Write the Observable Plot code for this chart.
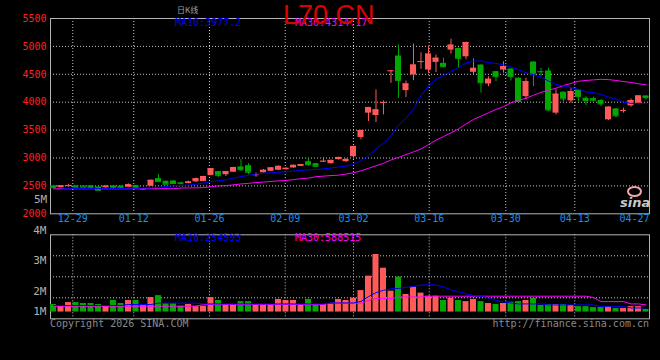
<!DOCTYPE html>
<html><head><meta charset="utf-8">
<script src="https://cdn.jsdelivr.net/npm/d3@7"></script>
<script src="https://cdn.jsdelivr.net/npm/@observablehq/plot@0.6"></script>
<style>
html,body{margin:0;padding:0;background:#000;}
#chart{position:relative;width:660px;height:360px;background:#000;overflow:hidden;font-family:"DejaVu Sans Mono",monospace;}
#chart svg{position:absolute;left:0;}
.lbl{position:absolute;white-space:nowrap;font-size:10px;line-height:10px;font-family:"DejaVu Sans Mono",monospace;}
</style></head><body><div id="chart"></div>
<script>
// ---- data ----
const open = [2500,2468,2500,2500,2498,2500,2480,2465,2500,2495,
 2475,2505,2435,2495,2630,2582,2588,2555,2542,2572,
 2580,2688,2756,2700,2745,2840,2862,2695,2735,2762,
 2780,2790,2822,2850,2934,2898,2938,2898,2970,2934,
 3023,3368,3804,3761,3990,4555,4827,4207,4487,4722,
 4577,4714,4696,4934,4964,4814,4536,4666,4327,4547,
 4577,4595,4429,4100,4720,4550,4559,3804,4179,4023,
 4220,4071,4064,4029,3684,3880,3848,3934,3982,4112];
const close = [2468,2500,2505,2478,2478,2465,2422,2495,2462,2462,
 2522,2465,2445,2600,2577,2530,2542,2540,2570,2628,
 2668,2808,2690,2755,2830,2790,2745,2700,2780,2822,
 2850,2815,2868,2880,2880,2852,2942,2957,3010,2970,
 3207,3493,3904,3862,3996,4562,4386,4327,4666,4728,
 4862,4788,4636,5023,4786,5070,4607,4350,4411,4457,
 4636,4457,4011,4368,4505,4545,3862,4143,4059,4190,
 4100,4029,4035,3970,3911,3755,3852,4029,4112,4082];
const high = [2510,2505,2530,2505,2508,2505,2485,2500,2505,2500,
 2535,2510,2450,2605,2702,2590,2592,2565,2585,2640,
 2672,2812,2760,2760,2835,2970,2900,2732,2795,2830,
 2860,2825,2875,2885,2988,2905,3010,2960,3015,2990,
 3210,3500,3910,4220,4023,4565,5023,4380,5041,4886,
 5005,4845,4791,5130,4970,5075,4773,4670,4457,4555,
 4725,4600,4440,4429,4725,4607,4607,4220,4182,4250,
 4222,4100,4090,4050,3915,3885,3893,4059,4115,4115];
const low = [2460,2462,2480,2470,2472,2460,2412,2460,2455,2455,
 2470,2460,2428,2490,2565,2525,2538,2525,2538,2565,
 2575,2680,2655,2670,2740,2760,2700,2655,2730,2758,
 2775,2785,2818,2845,2850,2835,2925,2890,2965,2920,
 3020,3327,3654,3636,3773,4339,4071,4082,4386,4589,
 4518,4530,4612,4862,4607,4761,4475,4161,4279,4368,
 4518,4380,3993,4041,4279,4457,3832,3773,4011,3982,
 4011,3939,4010,3921,3671,3720,3804,3911,3975,4041];
const ma10 = [2434,2440,2455,2455,2455,2455,2455,2455,2455,2455,
 2456,2458,2460,2465,2475,2490,2500,2510,2515,2530,
 2550,2575,2590,2610,2640,2665,2690,2712,2728,2735,
 2745,2752,2765,2780,2788,2795,2805,2820,2840,2855,
 2890,2950,3040,3160,3265,3400,3590,3710,3880,4120,
 4290,4410,4480,4550,4620,4700,4735,4738,4710,4695,
 4670,4630,4580,4530,4490,4450,4380,4320,4290,4260,
 4230,4185,4170,4140,4090,4055,4000,3980,3972,3977];
const ma30 = [2448,2448,2448,2448,2448,2448,2448,2448,2448,2448,
 2448,2449,2450,2450,2450,2450,2450,2462,2464,2465,
 2470,2485,2500,2505,2520,2535,2545,2560,2568,2580,
 2590,2597,2613,2628,2640,2665,2675,2685,2692,2712,
 2735,2770,2815,2860,2905,2965,3010,3060,3110,3160,
 3240,3320,3385,3450,3520,3610,3690,3750,3810,3870,
 3920,3990,4035,4070,4125,4175,4215,4250,4300,4335,
 4375,4390,4400,4410,4405,4390,4370,4355,4330,4314];
// volume, millions
const volume = [0.39,0.34,0.49,0.49,0.44,0.44,0.39,0.34,0.60,0.44,
 0.60,0.60,0.34,0.75,0.85,0.44,0.44,0.30,0.39,0.30,
 0.30,0.75,0.60,0.39,0.34,0.54,0.54,0.34,0.34,0.34,
 0.65,0.60,0.60,0.39,0.65,0.39,0.39,0.39,0.65,0.60,
 0.72,1.11,1.86,2.98,2.27,1.08,1.81,0.91,1.29,0.98,
 0.82,0.82,0.60,0.72,0.60,0.54,0.65,0.54,0.44,0.39,
 0.44,0.51,0.54,0.60,0.72,0.34,0.39,0.39,0.39,0.34,
 0.28,0.28,0.23,0.23,0.28,0.18,0.18,0.28,0.28,0.13];
const volMa10 = [0.34,0.34,0.34,0.34,0.34,0.34,0.34,0.34,0.34,0.34,
 0.39,0.39,0.39,0.39,0.46,0.46,0.46,0.46,0.46,0.46,
 0.42,0.42,0.42,0.42,0.42,0.42,0.42,0.42,0.42,0.42,
 0.42,0.42,0.42,0.42,0.42,0.42,0.42,0.47,0.47,0.47,
 0.47,0.55,0.80,1.00,1.13,1.20,1.22,1.28,1.32,1.40,
 1.41,1.40,1.30,1.15,1.05,0.94,0.85,0.82,0.72,0.60,
 0.52,0.47,0.42,0.42,0.42,0.42,0.37,0.37,0.37,0.37,
 0.37,0.37,0.37,0.28,0.28,0.28,0.28,0.21,0.21,0.21];
const volMa30 = [0.30,0.30,0.30,0.30,0.30,0.30,0.30,0.30,0.30,0.30,
 0.30,0.30,0.30,0.30,0.30,0.30,0.30,0.30,0.30,0.30,
 0.39,0.39,0.39,0.39,0.39,0.39,0.39,0.39,0.39,0.39,
 0.39,0.39,0.39,0.39,0.39,0.39,0.39,0.46,0.46,0.46,
 0.46,0.46,0.60,0.69,0.69,0.69,0.78,0.78,0.78,0.78,
 0.82,0.82,0.82,0.82,0.82,0.82,0.82,0.82,0.82,0.82,
 0.82,0.82,0.82,0.82,0.82,0.82,0.82,0.82,0.82,0.82,
 0.82,0.82,0.75,0.54,0.54,0.54,0.54,0.42,0.42,0.37];
const priceTicks = [2000,2500,3000,3500,4000,4500,5000,5500];
const dateLabels = ["12-29","01-12","01-26","02-09","03-02","03-16","03-30","04-13"];
const dateTickPos = [2.57,10.7,20.8,30.9,40.0,50.1,60.3,69.5];
const lastDateLabel = "04-27";
const volLabels = ["4M","3M","2M","1M"];
const volLabelPos = [4.22,2.67,1.06,0.03];

// ---- drawing ----
const rows = open.map((o,i)=>({i,o,h:high[i],l:low[i],c:close[i],v:volume[i],
  m10:ma10[i],m30:ma30[i],vm10:volMa10[i],vm30:volMa30[i]}));
const UP="#ff5a5a", DN="#00a800";
const col = d => d.c >= d.o ? UP : DN;
const xDom = [-0.4, 79.467];
const mono = "DejaVu Sans Mono, monospace";
const grid = {stroke:"#c8c8c8", strokeDasharray:"1,2", strokeOpacity:1};
const chart = document.getElementById("chart");

const price = Plot.plot({
  width:660, height:232, marginLeft:50, marginRight:11, marginTop:18, marginBottom:18.7,
  style:{background:"transparent", fontFamily:mono, fontSize:"10px", overflow:"visible"},
  x:{domain:xDom, axis:null},
  y:{domain:[2000,5500], axis:null},
  color:{type:"identity"},
  marks:[
    Plot.ruleY(priceTicks.slice(1,-1), grid),
    Plot.ruleX(dateTickPos, grid),
    Plot.frame({stroke:"#b4b4b4"}),
    Plot.ruleX(rows,{x:"i", y1:"l", y2:"h", stroke:col}),
    Plot.rect(rows,{x1:d=>d.i-0.4, x2:d=>d.i+0.4, y1:"o", y2:"c", fill:col}),
    Plot.ruleY(rows,{x1:d=>d.i-0.4, x2:d=>d.i+0.4, y:"c", stroke:col}),
    Plot.line(rows,{x:"i", y:"m30", stroke:"#ff00ff", strokeWidth:1}),
    Plot.line(rows,{x:"i", y:"m10", stroke:"#0000ff", strokeWidth:1}),
    Plot.text(priceTicks,{y:d=>d, text:d=>String(d), frameAnchor:"left", textAnchor:"end", dx:-4, fill:"#ff2020"}),
    Plot.text(dateLabels,{x:(d,k)=>dateTickPos[k], text:d=>d, frameAnchor:"bottom", dy:8, fill:"#1e8ee6"}),
    Plot.text([lastDateLabel],{x:()=>xDom[1], text:d=>d, frameAnchor:"bottom", textAnchor:"end", dy:8, fill:"#1e8ee6"})
  ]
});
price.style.top = "0px";
chart.appendChild(price);

const vd = [-0.35, 4];
const vol = Plot.plot({
  width:660, height:140, marginLeft:50, marginRight:11, marginTop:14.3, marginBottom:41.7,
  style:{background:"transparent", fontFamily:mono, fontSize:"10px", overflow:"visible"},
  x:{domain:xDom, axis:null},
  y:{domain:vd, axis:null},
  color:{type:"identity"},
  marks:[
    Plot.ruleY([1,2,3].map(k=>vd[0]+(vd[1]-vd[0])*k/4), grid),
    Plot.ruleX(dateTickPos, grid),
    Plot.frame({stroke:"#b4b4b4"}),
    Plot.rect(rows,{x1:d=>d.i-0.4, x2:d=>d.i+0.4, y1:0, y2:"v", fill:col}),
    Plot.line(rows,{x:"i", y:"vm30", stroke:"#ff00ff", strokeWidth:1}),
    Plot.line(rows,{x:"i", y:"vm10", stroke:"#0000ff", strokeWidth:1}),
    Plot.text(volLabels,{y:(d,k)=>volLabelPos[k], text:d=>d, frameAnchor:"left", textAnchor:"end", dx:-4, fill:"#b0b0b0", fontSize:11})
  ]
});
vol.style.top = "220px";
chart.appendChild(vol);

function label(text, css){
  const d = document.createElement("div");
  d.className = "lbl"; d.textContent = text;
  Object.assign(d.style, css);
  chart.appendChild(d);
}
label("日K线",{left:"177px",top:"5px",fontSize:"8px",color:"#a0a0a0",fontFamily:"Noto Sans CJK SC"});
label("MA10:3977.2",{left:"175px",top:"18px",color:"#0000ff"});
label("MA30:4314.17",{left:"295px",top:"18px",color:"#ff00ff"});
label("L70 CN",{left:"283px",top:"2px",fontSize:"27px",lineHeight:"27px",color:"#dd0000",fontFamily:"Liberation Sans, Arial, sans-serif"});
label("5M",{left:"34px",top:"195px",fontSize:"11px",color:"#b0b0b0"});
label("MA10:254593",{left:"175px",top:"233px",color:"#0000ff"});
label("MA30:588515",{left:"295px",top:"233px",color:"#ff00ff"});
label("Copyright 2026 SINA.COM",{left:"50px",top:"319px",color:"#8a8a8a"});
label("http://finance.sina.com.cn",{right:"11px",top:"319px",color:"#8a8a8a"});
// sina logo
const eye = document.createElement("div");
Object.assign(eye.style,{position:"absolute",left:"627px",top:"186px",width:"11px",height:"7px",border:"2px solid #f4a4a4",borderRadius:"50%"});
chart.appendChild(eye);
label("sina",{left:"620px",top:"196px",fontSize:"13px",lineHeight:"13px",color:"#c8c8c8",fontWeight:"bold",fontStyle:"italic",fontFamily:"DejaVu Sans, sans-serif"});
</script></body></html>
